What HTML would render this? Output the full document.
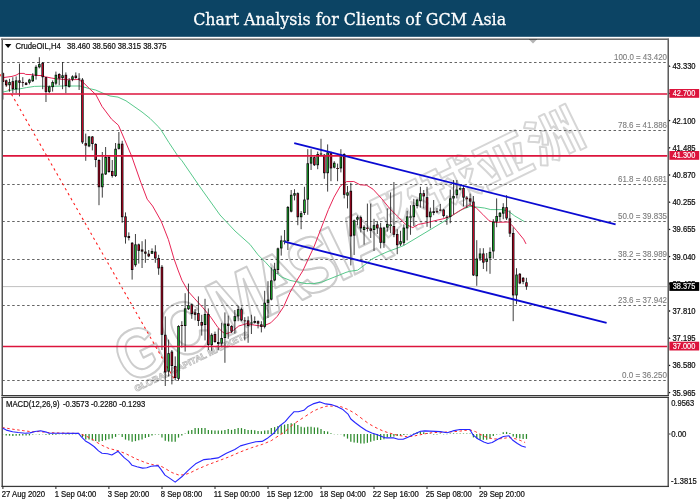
<!DOCTYPE html>
<html lang="en"><head><meta charset="utf-8"><title>Chart Analysis for Clients of GCM Asia</title>
<style>html,body{margin:0;padding:0;background:#fff;}body{width:700px;height:500px;overflow:hidden;position:relative;}svg{position:absolute;left:0;top:0;display:block;}text{white-space:pre;}</style>
</head><body>
<svg width="700" height="500" viewBox="0 0 700 500">
<rect x="0" y="0" width="700" height="500" fill="#fff"/>
<rect x="0" y="0" width="700" height="36.8" fill="#0c4464"/>
<text x="349.7" y="24.5" font-family="'DejaVu Serif', 'Liberation Serif', serif" font-size="16.9" fill="#fff" text-anchor="middle" textLength="313" lengthAdjust="spacingAndGlyphs" stroke="#fff" stroke-width="0.3">Chart Analysis for Clients of GCM Asia</text>
<g transform="translate(130.2,384.0) rotate(-26.0)">
<text transform="scale(0.84,1)" y="0" font-family="'Liberation Sans', sans-serif" font-weight="bold" stroke="#cdcdcd" stroke-width="2.2" stroke-linejoin="round" fill="#ffffff"><tspan x="-1.2" font-size="70">G</tspan><tspan x="59.8" font-size="75">C</tspan><tspan x="125.4 184.6 230.8 277.1 295.3" font-size="79">MASIA</tspan></text>
<text transform="translate(0,-17.5) scale(1.04,1)" x="282.2 336.0 389.8 444.7" y="0" font-family="'Noto Sans CJK SC', 'WenQuanYi Zen Hei', sans-serif" font-weight="bold" font-size="53" stroke="#d6d6d6" stroke-width="1.9" stroke-linejoin="round" fill="#ffffff">环球亚洲</text>
<text x="2" y="9.8" font-family="'Liberation Sans', sans-serif" font-weight="bold" font-size="8.8" stroke="#bdbdbd" stroke-width="0.8" fill="#fff" fill-opacity="0.6" textLength="126" lengthAdjust="spacingAndGlyphs">GLOBAL CAPITAL MARKETS</text>
</g>
<line x1="2.25" y1="62.5" x2="667" y2="62.5" stroke="#484848" stroke-width="0.85" stroke-dasharray="2.5 2.47"/>
<line x1="2.25" y1="130.5" x2="667" y2="130.5" stroke="#484848" stroke-width="0.85" stroke-dasharray="2.5 2.47"/>
<line x1="2.25" y1="184.5" x2="667" y2="184.5" stroke="#484848" stroke-width="0.85" stroke-dasharray="2.5 2.47"/>
<line x1="2.25" y1="221.5" x2="667" y2="221.5" stroke="#484848" stroke-width="0.85" stroke-dasharray="2.5 2.47"/>
<line x1="2.25" y1="259.5" x2="667" y2="259.5" stroke="#484848" stroke-width="0.85" stroke-dasharray="2.5 2.47"/>
<line x1="2.25" y1="305.5" x2="667" y2="305.5" stroke="#484848" stroke-width="0.85" stroke-dasharray="2.5 2.47"/>
<line x1="2.25" y1="380.5" x2="667" y2="380.5" stroke="#484848" stroke-width="0.85" stroke-dasharray="2.5 2.47"/>
<line x1="3" y1="286.6" x2="668" y2="286.6" stroke="#c0c0c0" stroke-width="1"/>
<line x1="-6.9" y1="62" x2="175" y2="380.5" stroke="#ff1a1a" stroke-width="1.05" stroke-dasharray="2.4 3.3" stroke-dashoffset="-2.8"/>
<polyline points="3.2,92.0 13.6,89.6 20.0,88.8 26.4,87.6 34.4,86.4 41.6,86.2 48.0,86.4 64.0,86.0 80.0,86.0 89.4,88.6 95.6,90.0 102.0,92.8 110.0,96.0 118.0,97.1 126.0,100.8 134.0,106.4 142.0,112.0 150.0,118.4 158.0,126.4 160.8,129.6 168.8,142.4 178.4,156.8 182.0,160.8 200.0,187.0 220.0,215.0 235.0,231.0 250.0,244.4 258.0,254.8 266.0,262.8 274.0,271.6 282.0,277.2 290.0,280.4 298.0,282.0 306.0,283.6 314.0,283.6 322.0,282.0 330.0,278.8 338.0,275.6 346.0,272.4 349.6,271.3 357.6,270.2 364.0,265.4 372.0,259.0 380.0,255.0 388.0,251.5 396.0,248.6 404.0,245.4 412.0,240.6 420.0,235.8 428.0,231.0 436.0,226.2 444.0,221.4 454.0,214.4 462.0,209.6 470.0,206.4 478.0,207.2 484.4,208.0 490.8,209.6 502.0,209.6 508.4,211.2 514.8,216.0 524.4,221.6" fill="none" stroke="#4fc585" stroke-width="0.95" stroke-linejoin="round"/>
<polyline points="3.2,77.6 12.0,76.4 16.0,75.2 19.2,73.4 24.0,73.4 25.6,74.4 31.2,74.6 36.0,75.4 42.4,75.6 45.6,76.8 51.2,78.0 56.0,78.8 68.8,79.8 78.4,79.5 83.2,82.4 89.4,88.6 95.8,94.6 102.0,106.4 111.6,119.2 118.4,125.2 124.4,139.2 131.6,156.0 140.8,182.4 147.2,199.2 152.6,206.0 161.2,221.2 168.4,239.6 174.0,258.8 178.0,270.0 182.0,280.4 188.4,291.6 194.8,298.8 202.8,307.6 210.8,317.2 218.0,327.6 222.0,331.5 225.2,334.0 230.8,332.4 238.8,326.0 246.8,323.6 254.8,325.2 262.8,326.3 270.8,322.8 277.2,316.4 283.6,306.8 290.0,292.4 296.4,281.2 302.8,270.8 314.0,246.8 322.0,226.0 328.4,209.6 334.0,197.2 340.4,186.0 346.6,181.6 353.8,181.5 360.2,184.8 366.6,185.2 373.0,189.2 381.8,198.8 389.6,208.4 397.6,216.4 405.6,224.4 412.8,227.6 418.4,224.4 426.4,222.8 436.0,220.4 444.0,218.6 452.0,215.6 458.8,211.2 470.0,204.8 476.4,208.0 482.8,214.4 489.2,220.8 494.0,222.4 508.4,222.0 511.6,224.8 516.4,230.4 523.6,239.2 526.0,243.9" fill="none" stroke="#e82455" stroke-width="1.0" stroke-linejoin="round"/>
<line x1="2.90" y1="72.4" x2="2.90" y2="99.6" stroke="#161616" stroke-width="0.828"/>
<rect x="1.66" y="73.2" width="2.49" height="8.8" fill="#080808"/>
<rect x="2.49" y="74.0" width="0.83" height="7.1" fill="#e6042c"/>
<line x1="6.21" y1="79.6" x2="6.21" y2="86.8" stroke="#161616" stroke-width="0.828"/>
<rect x="4.97" y="80.4" width="2.49" height="4.8" fill="#080808"/>
<rect x="5.80" y="81.2" width="0.83" height="3.1" fill="#e6042c"/>
<line x1="9.53" y1="78.8" x2="9.53" y2="91.6" stroke="#161616" stroke-width="0.828"/>
<rect x="8.28" y="82.0" width="2.49" height="3.2" fill="#080808"/>
<rect x="9.11" y="82.8" width="0.83" height="1.5" fill="#1cc630"/>
<line x1="12.84" y1="77.2" x2="12.84" y2="93.2" stroke="#161616" stroke-width="0.828"/>
<rect x="11.60" y="81.2" width="2.49" height="8.0" fill="#080808"/>
<rect x="12.43" y="82.0" width="0.83" height="6.3" fill="#e6042c"/>
<line x1="16.15" y1="76.4" x2="16.15" y2="93.2" stroke="#161616" stroke-width="0.828"/>
<rect x="14.91" y="80.4" width="2.49" height="8.8" fill="#080808"/>
<rect x="15.74" y="81.2" width="0.83" height="7.1" fill="#1cc630"/>
<line x1="19.47" y1="63.6" x2="19.47" y2="96.4" stroke="#161616" stroke-width="0.828"/>
<rect x="18.22" y="80.4" width="2.49" height="2.4" fill="#080808"/>
<rect x="19.05" y="81.2" width="0.83" height="0.7" fill="#e6042c"/>
<line x1="22.78" y1="77.2" x2="22.78" y2="86.8" stroke="#161616" stroke-width="0.828"/>
<rect x="21.54" y="82.0" width="2.49" height="0.9" fill="#080808"/>
<rect x="22.37" y="82.2" width="0.83" height="0.4" fill="#e6042c"/>
<line x1="26.09" y1="82.0" x2="26.09" y2="85.2" stroke="#161616" stroke-width="0.828"/>
<rect x="24.85" y="82.8" width="2.49" height="2.1" fill="#080808"/>
<rect x="25.68" y="83.6" width="0.83" height="0.4" fill="#e6042c"/>
<line x1="29.41" y1="78.8" x2="29.41" y2="84.4" stroke="#161616" stroke-width="0.828"/>
<rect x="28.17" y="79.6" width="2.49" height="3.2" fill="#080808"/>
<rect x="28.99" y="80.4" width="0.83" height="1.5" fill="#1cc630"/>
<line x1="32.72" y1="73.2" x2="32.72" y2="82.0" stroke="#161616" stroke-width="0.828"/>
<rect x="31.48" y="75.6" width="2.49" height="5.6" fill="#080808"/>
<rect x="32.31" y="76.4" width="0.83" height="3.9" fill="#1cc630"/>
<line x1="36.04" y1="65.2" x2="36.04" y2="79.6" stroke="#161616" stroke-width="0.828"/>
<rect x="34.79" y="66.8" width="2.49" height="8.8" fill="#080808"/>
<rect x="35.62" y="67.6" width="0.83" height="7.1" fill="#1cc630"/>
<line x1="39.35" y1="57.2" x2="39.35" y2="68.4" stroke="#161616" stroke-width="0.828"/>
<rect x="38.11" y="64.1" width="2.49" height="3.2" fill="#080808"/>
<rect x="38.93" y="64.9" width="0.83" height="1.5" fill="#1cc630"/>
<line x1="42.66" y1="62.0" x2="42.66" y2="89.2" stroke="#161616" stroke-width="0.828"/>
<rect x="41.42" y="62.8" width="2.49" height="14.4" fill="#080808"/>
<rect x="42.25" y="63.6" width="0.83" height="12.7" fill="#e6042c"/>
<line x1="45.98" y1="77.2" x2="45.98" y2="102.0" stroke="#161616" stroke-width="0.828"/>
<rect x="44.73" y="77.2" width="2.49" height="14.7" fill="#080808"/>
<rect x="45.56" y="78.0" width="0.83" height="13.0" fill="#e6042c"/>
<line x1="49.29" y1="85.5" x2="49.29" y2="93.2" stroke="#161616" stroke-width="0.828"/>
<rect x="48.05" y="86.5" width="2.49" height="5.4" fill="#080808"/>
<rect x="48.88" y="87.3" width="0.83" height="3.7" fill="#1cc630"/>
<line x1="52.60" y1="80.4" x2="52.60" y2="91.6" stroke="#161616" stroke-width="0.828"/>
<rect x="51.36" y="82.0" width="2.49" height="5.1" fill="#080808"/>
<rect x="52.19" y="82.8" width="0.83" height="3.4" fill="#1cc630"/>
<line x1="55.92" y1="71.6" x2="55.92" y2="85.2" stroke="#161616" stroke-width="0.828"/>
<rect x="54.67" y="74.8" width="2.49" height="8.8" fill="#080808"/>
<rect x="55.50" y="75.6" width="0.83" height="7.1" fill="#1cc630"/>
<line x1="59.23" y1="73.2" x2="59.23" y2="85.2" stroke="#161616" stroke-width="0.828"/>
<rect x="57.99" y="74.0" width="2.49" height="4.5" fill="#080808"/>
<rect x="58.82" y="74.8" width="0.83" height="2.8" fill="#e6042c"/>
<line x1="62.54" y1="62.0" x2="62.54" y2="89.2" stroke="#161616" stroke-width="0.828"/>
<rect x="61.30" y="75.3" width="2.49" height="2.7" fill="#080808"/>
<rect x="62.13" y="76.1" width="0.83" height="1.0" fill="#1cc630"/>
<line x1="65.86" y1="72.4" x2="65.86" y2="93.2" stroke="#161616" stroke-width="0.828"/>
<rect x="64.62" y="74.8" width="2.49" height="11.2" fill="#080808"/>
<rect x="65.44" y="75.6" width="0.83" height="9.5" fill="#e6042c"/>
<line x1="69.17" y1="78.0" x2="69.17" y2="87.6" stroke="#161616" stroke-width="0.828"/>
<rect x="67.93" y="80.4" width="2.49" height="6.4" fill="#080808"/>
<rect x="68.76" y="81.2" width="0.83" height="4.7" fill="#1cc630"/>
<line x1="72.49" y1="75.3" x2="72.49" y2="81.2" stroke="#161616" stroke-width="0.828"/>
<rect x="71.24" y="76.4" width="2.49" height="3.2" fill="#080808"/>
<rect x="72.07" y="77.2" width="0.83" height="1.5" fill="#1cc630"/>
<line x1="75.80" y1="72.4" x2="75.80" y2="78.8" stroke="#161616" stroke-width="0.828"/>
<rect x="74.56" y="75.6" width="2.49" height="2.4" fill="#080808"/>
<rect x="75.38" y="76.4" width="0.83" height="0.7" fill="#e6042c"/>
<line x1="79.11" y1="73.2" x2="79.11" y2="90.0" stroke="#161616" stroke-width="0.828"/>
<rect x="77.87" y="78.5" width="2.49" height="1.1" fill="#080808"/>
<rect x="78.70" y="78.8" width="0.83" height="0.6" fill="#e6042c"/>
<line x1="82.43" y1="78.0" x2="82.43" y2="144.0" stroke="#161616" stroke-width="0.828"/>
<rect x="81.18" y="79.6" width="2.49" height="62.8" fill="#080808"/>
<rect x="82.01" y="80.4" width="0.83" height="61.1" fill="#e6042c"/>
<line x1="85.74" y1="133.6" x2="85.74" y2="160.8" stroke="#161616" stroke-width="0.828"/>
<rect x="84.50" y="143.2" width="2.49" height="2.4" fill="#080808"/>
<rect x="85.33" y="144.0" width="0.83" height="0.7" fill="#e6042c"/>
<line x1="89.05" y1="136.0" x2="89.05" y2="147.2" stroke="#161616" stroke-width="0.828"/>
<rect x="87.81" y="136.5" width="2.49" height="9.9" fill="#080808"/>
<rect x="88.64" y="137.3" width="0.83" height="8.2" fill="#1cc630"/>
<line x1="92.37" y1="136.0" x2="92.37" y2="150.4" stroke="#161616" stroke-width="0.828"/>
<rect x="91.12" y="136.5" width="2.49" height="7.5" fill="#080808"/>
<rect x="91.95" y="137.3" width="0.83" height="5.8" fill="#e6042c"/>
<line x1="95.68" y1="143.2" x2="95.68" y2="167.2" stroke="#161616" stroke-width="0.828"/>
<rect x="94.44" y="144.0" width="2.49" height="16.0" fill="#080808"/>
<rect x="95.27" y="144.8" width="0.83" height="14.3" fill="#e6042c"/>
<line x1="98.99" y1="159.2" x2="98.99" y2="205.2" stroke="#161616" stroke-width="0.828"/>
<rect x="97.75" y="160.0" width="2.49" height="27.2" fill="#080808"/>
<rect x="98.58" y="160.8" width="0.83" height="25.5" fill="#e6042c"/>
<line x1="102.31" y1="152.0" x2="102.31" y2="197.6" stroke="#161616" stroke-width="0.828"/>
<rect x="101.07" y="173.6" width="2.49" height="13.6" fill="#080808"/>
<rect x="101.89" y="174.4" width="0.83" height="11.9" fill="#1cc630"/>
<line x1="105.62" y1="147.0" x2="105.62" y2="175.0" stroke="#161616" stroke-width="0.828"/>
<rect x="104.38" y="157.0" width="2.49" height="17.4" fill="#080808"/>
<rect x="105.21" y="157.8" width="0.83" height="15.7" fill="#1cc630"/>
<line x1="108.93" y1="156.0" x2="108.93" y2="172.8" stroke="#161616" stroke-width="0.828"/>
<rect x="107.69" y="157.0" width="2.49" height="15.0" fill="#080808"/>
<rect x="108.52" y="157.8" width="0.83" height="13.3" fill="#e6042c"/>
<line x1="112.25" y1="160.0" x2="112.25" y2="177.6" stroke="#161616" stroke-width="0.828"/>
<rect x="111.01" y="171.0" width="2.49" height="5.0" fill="#080808"/>
<rect x="111.83" y="171.8" width="0.83" height="3.3" fill="#e6042c"/>
<line x1="115.56" y1="143.0" x2="115.56" y2="177.0" stroke="#161616" stroke-width="0.828"/>
<rect x="114.32" y="148.8" width="2.49" height="27.2" fill="#080808"/>
<rect x="115.15" y="149.6" width="0.83" height="25.5" fill="#1cc630"/>
<line x1="118.88" y1="132.0" x2="118.88" y2="149.6" stroke="#161616" stroke-width="0.828"/>
<rect x="117.63" y="143.7" width="2.49" height="5.1" fill="#080808"/>
<rect x="118.46" y="144.5" width="0.83" height="3.4" fill="#1cc630"/>
<line x1="122.19" y1="140.8" x2="122.19" y2="222.8" stroke="#161616" stroke-width="0.828"/>
<rect x="120.95" y="143.7" width="2.49" height="73.5" fill="#080808"/>
<rect x="121.78" y="144.5" width="0.83" height="71.8" fill="#e6042c"/>
<line x1="125.50" y1="212.4" x2="125.50" y2="243.6" stroke="#161616" stroke-width="0.828"/>
<rect x="124.26" y="216.4" width="2.49" height="20.8" fill="#080808"/>
<rect x="125.09" y="217.2" width="0.83" height="19.1" fill="#e6042c"/>
<line x1="128.82" y1="232.4" x2="128.82" y2="240.4" stroke="#161616" stroke-width="0.828"/>
<rect x="127.57" y="236.0" width="2.49" height="2.0" fill="#080808"/>
<rect x="128.40" y="236.8" width="0.83" height="0.3" fill="#e6042c"/>
<line x1="132.13" y1="242.0" x2="132.13" y2="279.6" stroke="#161616" stroke-width="0.828"/>
<rect x="130.89" y="242.8" width="2.49" height="27.2" fill="#080808"/>
<rect x="131.72" y="243.6" width="0.83" height="25.5" fill="#e6042c"/>
<line x1="135.44" y1="234.0" x2="135.44" y2="266.8" stroke="#161616" stroke-width="0.828"/>
<rect x="134.20" y="244.4" width="2.49" height="20.8" fill="#080808"/>
<rect x="135.03" y="245.2" width="0.83" height="19.1" fill="#1cc630"/>
<line x1="138.76" y1="243.6" x2="138.76" y2="263.6" stroke="#161616" stroke-width="0.828"/>
<rect x="137.51" y="244.4" width="2.49" height="6.4" fill="#080808"/>
<rect x="138.34" y="245.2" width="0.83" height="4.7" fill="#e6042c"/>
<line x1="142.07" y1="241.2" x2="142.07" y2="268.0" stroke="#161616" stroke-width="0.828"/>
<rect x="140.83" y="249.5" width="2.49" height="2.1" fill="#080808"/>
<rect x="141.66" y="250.3" width="0.83" height="0.4" fill="#e6042c"/>
<line x1="145.38" y1="239.3" x2="145.38" y2="262.8" stroke="#161616" stroke-width="0.828"/>
<rect x="144.14" y="251.6" width="2.49" height="2.1" fill="#080808"/>
<rect x="144.97" y="252.4" width="0.83" height="0.4" fill="#e6042c"/>
<line x1="148.70" y1="250.0" x2="148.70" y2="257.2" stroke="#161616" stroke-width="0.828"/>
<rect x="147.46" y="253.7" width="2.49" height="2.7" fill="#080808"/>
<rect x="148.28" y="254.5" width="0.83" height="1.0" fill="#e6042c"/>
<line x1="152.01" y1="248.4" x2="152.01" y2="254.0" stroke="#161616" stroke-width="0.828"/>
<rect x="150.77" y="251.0" width="2.49" height="2.7" fill="#080808"/>
<rect x="151.60" y="251.8" width="0.83" height="1.0" fill="#1cc630"/>
<line x1="155.33" y1="245.2" x2="155.33" y2="262.8" stroke="#161616" stroke-width="0.828"/>
<rect x="154.08" y="251.6" width="2.49" height="6.8" fill="#080808"/>
<rect x="154.91" y="252.4" width="0.83" height="5.1" fill="#e6042c"/>
<line x1="158.64" y1="254.8" x2="158.64" y2="274.8" stroke="#161616" stroke-width="0.828"/>
<rect x="157.40" y="258.0" width="2.49" height="10.4" fill="#080808"/>
<rect x="158.22" y="258.8" width="0.83" height="8.7" fill="#e6042c"/>
<line x1="161.95" y1="265.0" x2="161.95" y2="350.0" stroke="#161616" stroke-width="0.828"/>
<rect x="160.71" y="266.8" width="2.49" height="68.0" fill="#080808"/>
<rect x="161.54" y="267.6" width="0.83" height="66.3" fill="#e6042c"/>
<line x1="165.27" y1="316.4" x2="165.27" y2="386.0" stroke="#161616" stroke-width="0.828"/>
<rect x="164.02" y="334.8" width="2.49" height="37.6" fill="#080808"/>
<rect x="164.85" y="335.6" width="0.83" height="35.9" fill="#e6042c"/>
<line x1="168.58" y1="339.6" x2="168.58" y2="376.4" stroke="#161616" stroke-width="0.828"/>
<rect x="167.34" y="353.2" width="2.49" height="18.4" fill="#080808"/>
<rect x="168.17" y="354.0" width="0.83" height="16.7" fill="#1cc630"/>
<line x1="171.89" y1="350.0" x2="171.89" y2="384.4" stroke="#161616" stroke-width="0.828"/>
<rect x="170.65" y="351.6" width="2.49" height="14.4" fill="#080808"/>
<rect x="171.48" y="352.4" width="0.83" height="12.7" fill="#e6042c"/>
<line x1="175.21" y1="356.4" x2="175.21" y2="380.4" stroke="#161616" stroke-width="0.828"/>
<rect x="173.96" y="366.0" width="2.49" height="12.0" fill="#080808"/>
<rect x="174.79" y="366.8" width="0.83" height="10.3" fill="#e6042c"/>
<line x1="178.52" y1="325.2" x2="178.52" y2="380.4" stroke="#161616" stroke-width="0.828"/>
<rect x="177.28" y="326.0" width="2.49" height="52.8" fill="#080808"/>
<rect x="178.11" y="326.8" width="0.83" height="51.1" fill="#1cc630"/>
<line x1="181.83" y1="321.2" x2="181.83" y2="347.6" stroke="#161616" stroke-width="0.828"/>
<rect x="180.59" y="325.0" width="2.49" height="1.0" fill="#080808"/>
<rect x="181.42" y="325.2" width="0.83" height="0.5" fill="#e6042c"/>
<line x1="185.15" y1="293.2" x2="185.15" y2="351.6" stroke="#161616" stroke-width="0.828"/>
<rect x="183.91" y="308.4" width="2.49" height="17.6" fill="#080808"/>
<rect x="184.73" y="309.2" width="0.83" height="15.9" fill="#1cc630"/>
<line x1="188.46" y1="283.6" x2="188.46" y2="310.0" stroke="#161616" stroke-width="0.828"/>
<rect x="187.22" y="305.2" width="2.49" height="4.0" fill="#080808"/>
<rect x="188.05" y="306.0" width="0.83" height="2.3" fill="#1cc630"/>
<line x1="191.78" y1="303.6" x2="191.78" y2="318.8" stroke="#161616" stroke-width="0.828"/>
<rect x="190.53" y="304.4" width="2.49" height="9.6" fill="#080808"/>
<rect x="191.36" y="305.2" width="0.83" height="7.9" fill="#e6042c"/>
<line x1="195.09" y1="309.0" x2="195.09" y2="320.4" stroke="#161616" stroke-width="0.828"/>
<rect x="193.85" y="312.4" width="2.49" height="2.4" fill="#080808"/>
<rect x="194.67" y="313.2" width="0.83" height="0.7" fill="#e6042c"/>
<line x1="198.40" y1="296.4" x2="198.40" y2="326.0" stroke="#161616" stroke-width="0.828"/>
<rect x="197.16" y="313.0" width="2.49" height="8.0" fill="#080808"/>
<rect x="197.99" y="313.8" width="0.83" height="6.3" fill="#e6042c"/>
<line x1="201.72" y1="314.8" x2="201.72" y2="335.6" stroke="#161616" stroke-width="0.828"/>
<rect x="200.47" y="322.0" width="2.49" height="3.6" fill="#080808"/>
<rect x="201.30" y="322.8" width="0.83" height="1.9" fill="#e6042c"/>
<line x1="205.03" y1="298.8" x2="205.03" y2="340.4" stroke="#161616" stroke-width="0.828"/>
<rect x="203.79" y="314.0" width="2.49" height="11.0" fill="#080808"/>
<rect x="204.62" y="314.8" width="0.83" height="9.3" fill="#1cc630"/>
<line x1="208.34" y1="308.4" x2="208.34" y2="350.0" stroke="#161616" stroke-width="0.828"/>
<rect x="207.10" y="314.0" width="2.49" height="31.0" fill="#080808"/>
<rect x="207.93" y="314.8" width="0.83" height="29.3" fill="#e6042c"/>
<line x1="211.66" y1="333.2" x2="211.66" y2="350.8" stroke="#161616" stroke-width="0.828"/>
<rect x="210.41" y="334.8" width="2.49" height="10.4" fill="#080808"/>
<rect x="211.24" y="335.6" width="0.83" height="8.7" fill="#1cc630"/>
<line x1="214.97" y1="331.6" x2="214.97" y2="342.8" stroke="#161616" stroke-width="0.828"/>
<rect x="213.73" y="334.0" width="2.49" height="8.0" fill="#080808"/>
<rect x="214.56" y="334.8" width="0.83" height="6.3" fill="#e6042c"/>
<line x1="218.28" y1="328.4" x2="218.28" y2="350.0" stroke="#161616" stroke-width="0.828"/>
<rect x="217.04" y="342.0" width="2.49" height="2.0" fill="#080808"/>
<rect x="217.87" y="342.8" width="0.83" height="0.3" fill="#e6042c"/>
<line x1="221.60" y1="322.8" x2="221.60" y2="346.0" stroke="#161616" stroke-width="0.828"/>
<rect x="220.36" y="338.0" width="2.49" height="5.6" fill="#080808"/>
<rect x="221.18" y="338.8" width="0.83" height="3.9" fill="#1cc630"/>
<line x1="224.91" y1="312.4" x2="224.91" y2="362.8" stroke="#161616" stroke-width="0.828"/>
<rect x="223.67" y="323.6" width="2.49" height="14.4" fill="#080808"/>
<rect x="224.50" y="324.4" width="0.83" height="12.7" fill="#1cc630"/>
<line x1="228.22" y1="315.6" x2="228.22" y2="338.8" stroke="#161616" stroke-width="0.828"/>
<rect x="226.98" y="323.6" width="2.49" height="2.4" fill="#080808"/>
<rect x="227.81" y="324.4" width="0.83" height="0.7" fill="#e6042c"/>
<line x1="231.54" y1="325.2" x2="231.54" y2="333.0" stroke="#161616" stroke-width="0.828"/>
<rect x="230.30" y="326.0" width="2.49" height="5.6" fill="#080808"/>
<rect x="231.12" y="326.8" width="0.83" height="3.9" fill="#e6042c"/>
<line x1="234.85" y1="310.0" x2="234.85" y2="333.6" stroke="#161616" stroke-width="0.828"/>
<rect x="233.61" y="316.2" width="2.49" height="5.0" fill="#080808"/>
<rect x="234.44" y="317.0" width="0.83" height="3.3" fill="#1cc630"/>
<line x1="238.17" y1="306.0" x2="238.17" y2="321.2" stroke="#161616" stroke-width="0.828"/>
<rect x="236.92" y="309.2" width="2.49" height="7.2" fill="#080808"/>
<rect x="237.75" y="310.0" width="0.83" height="5.5" fill="#1cc630"/>
<line x1="241.48" y1="307.6" x2="241.48" y2="321.2" stroke="#161616" stroke-width="0.828"/>
<rect x="240.24" y="309.2" width="2.49" height="11.2" fill="#080808"/>
<rect x="241.07" y="310.0" width="0.83" height="9.5" fill="#e6042c"/>
<line x1="244.79" y1="317.2" x2="244.79" y2="340.4" stroke="#161616" stroke-width="0.828"/>
<rect x="243.55" y="320.4" width="2.49" height="0.9" fill="#080808"/>
<rect x="244.38" y="320.6" width="0.83" height="0.4" fill="#e6042c"/>
<line x1="248.11" y1="316.4" x2="248.11" y2="342.8" stroke="#161616" stroke-width="0.828"/>
<rect x="246.86" y="320.4" width="2.49" height="5.6" fill="#080808"/>
<rect x="247.69" y="321.2" width="0.83" height="3.9" fill="#e6042c"/>
<line x1="251.42" y1="314.8" x2="251.42" y2="334.0" stroke="#161616" stroke-width="0.828"/>
<rect x="250.18" y="322.5" width="2.49" height="1.0" fill="#080808"/>
<rect x="251.01" y="322.8" width="0.83" height="0.5" fill="#1cc630"/>
<line x1="254.73" y1="316.4" x2="254.73" y2="323.6" stroke="#161616" stroke-width="0.828"/>
<rect x="253.49" y="321.0" width="2.49" height="1.8" fill="#080808"/>
<rect x="254.32" y="321.8" width="0.83" height="0.1" fill="#1cc630"/>
<line x1="258.05" y1="320.4" x2="258.05" y2="328.4" stroke="#161616" stroke-width="0.828"/>
<rect x="256.80" y="321.2" width="2.49" height="2.4" fill="#080808"/>
<rect x="257.63" y="322.0" width="0.83" height="0.7" fill="#e6042c"/>
<line x1="261.36" y1="321.2" x2="261.36" y2="332.4" stroke="#161616" stroke-width="0.828"/>
<rect x="260.12" y="324.4" width="2.49" height="2.4" fill="#080808"/>
<rect x="260.95" y="325.2" width="0.83" height="0.7" fill="#e6042c"/>
<line x1="264.67" y1="290.8" x2="264.67" y2="328.4" stroke="#161616" stroke-width="0.828"/>
<rect x="263.43" y="302.8" width="2.49" height="24.0" fill="#080808"/>
<rect x="264.26" y="303.6" width="0.83" height="22.3" fill="#1cc630"/>
<line x1="267.99" y1="281.2" x2="267.99" y2="318.0" stroke="#161616" stroke-width="0.828"/>
<rect x="266.75" y="299.6" width="2.49" height="3.2" fill="#080808"/>
<rect x="267.57" y="300.4" width="0.83" height="1.5" fill="#1cc630"/>
<line x1="271.30" y1="267.6" x2="271.30" y2="300.4" stroke="#161616" stroke-width="0.828"/>
<rect x="270.06" y="280.4" width="2.49" height="19.2" fill="#080808"/>
<rect x="270.89" y="281.2" width="0.83" height="17.5" fill="#1cc630"/>
<line x1="274.62" y1="262.8" x2="274.62" y2="281.2" stroke="#161616" stroke-width="0.828"/>
<rect x="273.37" y="269.2" width="2.49" height="11.2" fill="#080808"/>
<rect x="274.20" y="270.0" width="0.83" height="9.5" fill="#1cc630"/>
<line x1="277.93" y1="247.6" x2="277.93" y2="274.0" stroke="#161616" stroke-width="0.828"/>
<rect x="276.69" y="248.4" width="2.49" height="21.6" fill="#080808"/>
<rect x="277.51" y="249.2" width="0.83" height="19.9" fill="#1cc630"/>
<line x1="281.24" y1="235.6" x2="281.24" y2="255.6" stroke="#161616" stroke-width="0.828"/>
<rect x="280.00" y="240.4" width="2.49" height="8.0" fill="#080808"/>
<rect x="280.83" y="241.2" width="0.83" height="6.3" fill="#1cc630"/>
<line x1="284.56" y1="230.0" x2="284.56" y2="244.4" stroke="#161616" stroke-width="0.828"/>
<rect x="283.31" y="240.4" width="2.49" height="1.6" fill="#080808"/>
<rect x="284.14" y="240.7" width="0.83" height="1.1" fill="#1cc630"/>
<line x1="287.87" y1="206.0" x2="287.87" y2="250.0" stroke="#161616" stroke-width="0.828"/>
<rect x="286.63" y="207.0" width="2.49" height="34.2" fill="#080808"/>
<rect x="287.46" y="207.8" width="0.83" height="32.5" fill="#1cc630"/>
<line x1="291.18" y1="190.0" x2="291.18" y2="212.4" stroke="#161616" stroke-width="0.828"/>
<rect x="289.94" y="194.8" width="2.49" height="16.8" fill="#080808"/>
<rect x="290.77" y="195.6" width="0.83" height="15.1" fill="#1cc630"/>
<line x1="294.50" y1="189.2" x2="294.50" y2="200.4" stroke="#161616" stroke-width="0.828"/>
<rect x="293.25" y="193.2" width="2.49" height="2.4" fill="#080808"/>
<rect x="294.08" y="194.0" width="0.83" height="0.7" fill="#1cc630"/>
<line x1="297.81" y1="192.4" x2="297.81" y2="225.2" stroke="#161616" stroke-width="0.828"/>
<rect x="296.57" y="193.2" width="2.49" height="24.0" fill="#080808"/>
<rect x="297.40" y="194.0" width="0.83" height="22.3" fill="#e6042c"/>
<line x1="301.12" y1="211.0" x2="301.12" y2="229.2" stroke="#161616" stroke-width="0.828"/>
<rect x="299.88" y="213.2" width="2.49" height="4.0" fill="#080808"/>
<rect x="300.71" y="214.0" width="0.83" height="2.3" fill="#1cc630"/>
<line x1="304.44" y1="186.8" x2="304.44" y2="215.0" stroke="#161616" stroke-width="0.828"/>
<rect x="303.20" y="199.6" width="2.49" height="13.4" fill="#080808"/>
<rect x="304.02" y="200.4" width="0.83" height="11.7" fill="#1cc630"/>
<line x1="307.75" y1="149.2" x2="307.75" y2="214.8" stroke="#161616" stroke-width="0.828"/>
<rect x="306.51" y="163.3" width="2.49" height="36.3" fill="#080808"/>
<rect x="307.34" y="164.1" width="0.83" height="34.6" fill="#1cc630"/>
<line x1="311.07" y1="149.2" x2="311.07" y2="170.0" stroke="#161616" stroke-width="0.828"/>
<rect x="309.82" y="157.2" width="2.49" height="6.4" fill="#080808"/>
<rect x="310.65" y="158.0" width="0.83" height="4.7" fill="#1cc630"/>
<line x1="314.38" y1="156.4" x2="314.38" y2="166.0" stroke="#161616" stroke-width="0.828"/>
<rect x="313.14" y="157.2" width="2.49" height="8.0" fill="#080808"/>
<rect x="313.96" y="158.0" width="0.83" height="6.3" fill="#e6042c"/>
<line x1="317.69" y1="151.6" x2="317.69" y2="169.2" stroke="#161616" stroke-width="0.828"/>
<rect x="316.45" y="154.0" width="2.49" height="11.2" fill="#080808"/>
<rect x="317.28" y="154.8" width="0.83" height="9.5" fill="#1cc630"/>
<line x1="321.01" y1="138.8" x2="321.01" y2="155.6" stroke="#161616" stroke-width="0.828"/>
<rect x="319.76" y="153.5" width="2.49" height="1.0" fill="#080808"/>
<rect x="320.59" y="153.8" width="0.83" height="0.5" fill="#1cc630"/>
<line x1="324.32" y1="154.0" x2="324.32" y2="178.8" stroke="#161616" stroke-width="0.828"/>
<rect x="323.08" y="154.8" width="2.49" height="18.4" fill="#080808"/>
<rect x="323.91" y="155.6" width="0.83" height="16.7" fill="#e6042c"/>
<line x1="327.63" y1="144.4" x2="327.63" y2="191.6" stroke="#161616" stroke-width="0.828"/>
<rect x="326.39" y="152.4" width="2.49" height="20.8" fill="#080808"/>
<rect x="327.22" y="153.2" width="0.83" height="19.1" fill="#1cc630"/>
<line x1="330.95" y1="151.6" x2="330.95" y2="181.2" stroke="#161616" stroke-width="0.828"/>
<rect x="329.70" y="152.4" width="2.49" height="16.0" fill="#080808"/>
<rect x="330.53" y="153.2" width="0.83" height="14.3" fill="#e6042c"/>
<line x1="334.26" y1="161.2" x2="334.26" y2="168.4" stroke="#161616" stroke-width="0.828"/>
<rect x="333.02" y="162.8" width="2.49" height="4.8" fill="#080808"/>
<rect x="333.85" y="163.6" width="0.83" height="3.1" fill="#1cc630"/>
<line x1="337.57" y1="163.6" x2="337.57" y2="181.2" stroke="#161616" stroke-width="0.828"/>
<rect x="336.33" y="168.0" width="2.49" height="1.0" fill="#080808"/>
<rect x="337.16" y="168.2" width="0.83" height="0.5" fill="#e6042c"/>
<line x1="340.89" y1="149.2" x2="340.89" y2="172.4" stroke="#161616" stroke-width="0.828"/>
<rect x="339.64" y="154.8" width="2.49" height="13.6" fill="#080808"/>
<rect x="340.47" y="155.6" width="0.83" height="11.9" fill="#1cc630"/>
<line x1="344.20" y1="153.2" x2="344.20" y2="198.4" stroke="#161616" stroke-width="0.828"/>
<rect x="342.96" y="154.0" width="2.49" height="40.8" fill="#080808"/>
<rect x="343.79" y="154.8" width="0.83" height="39.1" fill="#e6042c"/>
<line x1="347.51" y1="186.0" x2="347.51" y2="208.4" stroke="#161616" stroke-width="0.828"/>
<rect x="346.27" y="192.4" width="2.49" height="3.2" fill="#080808"/>
<rect x="347.10" y="193.2" width="0.83" height="1.5" fill="#1cc630"/>
<line x1="350.83" y1="182.8" x2="350.83" y2="265.4" stroke="#161616" stroke-width="0.828"/>
<rect x="349.59" y="190.8" width="2.49" height="45.6" fill="#080808"/>
<rect x="350.41" y="191.6" width="0.83" height="43.9" fill="#e6042c"/>
<line x1="354.14" y1="219.6" x2="354.14" y2="255.0" stroke="#161616" stroke-width="0.828"/>
<rect x="352.90" y="220.4" width="2.49" height="15.2" fill="#080808"/>
<rect x="353.73" y="221.2" width="0.83" height="13.5" fill="#1cc630"/>
<line x1="357.46" y1="215.6" x2="357.46" y2="225.2" stroke="#161616" stroke-width="0.828"/>
<rect x="356.21" y="217.2" width="2.49" height="2.4" fill="#080808"/>
<rect x="357.04" y="218.0" width="0.83" height="0.7" fill="#1cc630"/>
<line x1="360.77" y1="215.6" x2="360.77" y2="232.4" stroke="#161616" stroke-width="0.828"/>
<rect x="359.53" y="217.2" width="2.49" height="11.2" fill="#080808"/>
<rect x="360.36" y="218.0" width="0.83" height="9.5" fill="#e6042c"/>
<line x1="364.08" y1="225.2" x2="364.08" y2="244.6" stroke="#161616" stroke-width="0.828"/>
<rect x="362.84" y="226.8" width="2.49" height="3.2" fill="#080808"/>
<rect x="363.67" y="227.6" width="0.83" height="1.5" fill="#1cc630"/>
<line x1="367.40" y1="203.6" x2="367.40" y2="231.6" stroke="#161616" stroke-width="0.828"/>
<rect x="366.15" y="227.6" width="2.49" height="1.3" fill="#080808"/>
<rect x="366.98" y="227.8" width="0.83" height="0.8" fill="#e6042c"/>
<line x1="370.71" y1="203.6" x2="370.71" y2="238.0" stroke="#161616" stroke-width="0.828"/>
<rect x="369.47" y="228.4" width="2.49" height="2.4" fill="#080808"/>
<rect x="370.30" y="229.2" width="0.83" height="0.7" fill="#e6042c"/>
<line x1="374.02" y1="218.8" x2="374.02" y2="251.0" stroke="#161616" stroke-width="0.828"/>
<rect x="372.78" y="225.2" width="2.49" height="4.8" fill="#080808"/>
<rect x="373.61" y="226.0" width="0.83" height="3.1" fill="#1cc630"/>
<line x1="377.34" y1="221.2" x2="377.34" y2="234.0" stroke="#161616" stroke-width="0.828"/>
<rect x="376.09" y="224.4" width="2.49" height="4.0" fill="#080808"/>
<rect x="376.92" y="225.2" width="0.83" height="2.3" fill="#e6042c"/>
<line x1="380.65" y1="222.8" x2="380.65" y2="248.4" stroke="#161616" stroke-width="0.828"/>
<rect x="379.41" y="227.6" width="2.49" height="15.2" fill="#080808"/>
<rect x="380.24" y="228.4" width="0.83" height="13.5" fill="#e6042c"/>
<line x1="383.96" y1="226.8" x2="383.96" y2="247.8" stroke="#161616" stroke-width="0.828"/>
<rect x="382.72" y="227.6" width="2.49" height="15.2" fill="#080808"/>
<rect x="383.55" y="228.4" width="0.83" height="13.5" fill="#1cc630"/>
<line x1="387.28" y1="208.4" x2="387.28" y2="231.6" stroke="#161616" stroke-width="0.828"/>
<rect x="386.04" y="224.0" width="2.49" height="3.6" fill="#080808"/>
<rect x="386.86" y="224.8" width="0.83" height="1.9" fill="#1cc630"/>
<line x1="390.59" y1="192.4" x2="390.59" y2="233.2" stroke="#161616" stroke-width="0.828"/>
<rect x="389.35" y="224.4" width="2.49" height="1.6" fill="#080808"/>
<rect x="390.18" y="224.7" width="0.83" height="1.1" fill="#1cc630"/>
<line x1="393.91" y1="182.0" x2="393.91" y2="237.2" stroke="#161616" stroke-width="0.828"/>
<rect x="392.66" y="226.0" width="2.49" height="8.8" fill="#080808"/>
<rect x="393.49" y="226.8" width="0.83" height="7.1" fill="#e6042c"/>
<line x1="397.22" y1="229.2" x2="397.22" y2="254.2" stroke="#161616" stroke-width="0.828"/>
<rect x="395.98" y="234.0" width="2.49" height="11.2" fill="#080808"/>
<rect x="396.80" y="234.8" width="0.83" height="9.5" fill="#e6042c"/>
<line x1="400.53" y1="230.8" x2="400.53" y2="246.0" stroke="#161616" stroke-width="0.828"/>
<rect x="399.29" y="241.2" width="2.49" height="3.2" fill="#080808"/>
<rect x="400.12" y="242.0" width="0.83" height="1.5" fill="#1cc630"/>
<line x1="403.85" y1="224.4" x2="403.85" y2="245.2" stroke="#161616" stroke-width="0.828"/>
<rect x="402.60" y="227.6" width="2.49" height="15.2" fill="#080808"/>
<rect x="403.43" y="228.4" width="0.83" height="13.5" fill="#1cc630"/>
<line x1="407.16" y1="210.8" x2="407.16" y2="240.4" stroke="#161616" stroke-width="0.828"/>
<rect x="405.92" y="216.4" width="2.49" height="12.0" fill="#080808"/>
<rect x="406.75" y="217.2" width="0.83" height="10.3" fill="#1cc630"/>
<line x1="410.47" y1="205.2" x2="410.47" y2="234.8" stroke="#161616" stroke-width="0.828"/>
<rect x="409.23" y="216.4" width="2.49" height="1.3" fill="#080808"/>
<rect x="410.06" y="216.7" width="0.83" height="0.8" fill="#1cc630"/>
<line x1="413.79" y1="198.8" x2="413.79" y2="226.0" stroke="#161616" stroke-width="0.828"/>
<rect x="412.54" y="205.2" width="2.49" height="12.0" fill="#080808"/>
<rect x="413.37" y="206.0" width="0.83" height="10.3" fill="#1cc630"/>
<line x1="417.10" y1="198.8" x2="417.10" y2="208.4" stroke="#161616" stroke-width="0.828"/>
<rect x="415.86" y="199.6" width="2.49" height="6.4" fill="#080808"/>
<rect x="416.69" y="200.4" width="0.83" height="4.7" fill="#1cc630"/>
<line x1="420.41" y1="186.8" x2="420.41" y2="207.6" stroke="#161616" stroke-width="0.828"/>
<rect x="419.17" y="193.2" width="2.49" height="8.0" fill="#080808"/>
<rect x="420.00" y="194.0" width="0.83" height="6.3" fill="#1cc630"/>
<line x1="423.73" y1="190.0" x2="423.73" y2="208.4" stroke="#161616" stroke-width="0.828"/>
<rect x="422.49" y="193.2" width="2.49" height="3.2" fill="#080808"/>
<rect x="423.31" y="194.0" width="0.83" height="1.5" fill="#e6042c"/>
<line x1="427.04" y1="186.8" x2="427.04" y2="226.8" stroke="#161616" stroke-width="0.828"/>
<rect x="425.80" y="197.2" width="2.49" height="20.0" fill="#080808"/>
<rect x="426.63" y="198.0" width="0.83" height="18.3" fill="#e6042c"/>
<line x1="430.36" y1="207.6" x2="430.36" y2="228.4" stroke="#161616" stroke-width="0.828"/>
<rect x="429.11" y="211.6" width="2.49" height="5.6" fill="#080808"/>
<rect x="429.94" y="212.4" width="0.83" height="3.9" fill="#1cc630"/>
<line x1="433.67" y1="200.0" x2="433.67" y2="215.2" stroke="#161616" stroke-width="0.828"/>
<rect x="432.43" y="211.2" width="2.49" height="1.8" fill="#080808"/>
<rect x="433.25" y="212.0" width="0.83" height="0.1" fill="#e6042c"/>
<line x1="436.98" y1="208.0" x2="436.98" y2="213.2" stroke="#161616" stroke-width="0.828"/>
<rect x="435.74" y="211.2" width="2.49" height="1.0" fill="#080808"/>
<rect x="436.57" y="211.4" width="0.83" height="0.5" fill="#e6042c"/>
<line x1="440.30" y1="204.0" x2="440.30" y2="211.2" stroke="#161616" stroke-width="0.828"/>
<rect x="439.05" y="209.6" width="2.49" height="1.0" fill="#080808"/>
<rect x="439.88" y="209.8" width="0.83" height="0.5" fill="#e6042c"/>
<line x1="443.61" y1="208.8" x2="443.61" y2="217.6" stroke="#161616" stroke-width="0.828"/>
<rect x="442.37" y="209.6" width="2.49" height="6.4" fill="#080808"/>
<rect x="443.20" y="210.4" width="0.83" height="4.7" fill="#e6042c"/>
<line x1="446.92" y1="215.2" x2="446.92" y2="224.8" stroke="#161616" stroke-width="0.828"/>
<rect x="445.68" y="216.8" width="2.49" height="1.0" fill="#080808"/>
<rect x="446.51" y="217.1" width="0.83" height="0.5" fill="#e6042c"/>
<line x1="450.24" y1="189.6" x2="450.24" y2="223.2" stroke="#161616" stroke-width="0.828"/>
<rect x="448.99" y="198.4" width="2.49" height="18.4" fill="#080808"/>
<rect x="449.82" y="199.2" width="0.83" height="16.7" fill="#1cc630"/>
<line x1="453.55" y1="180.0" x2="453.55" y2="214.4" stroke="#161616" stroke-width="0.828"/>
<rect x="452.31" y="196.0" width="2.49" height="2.4" fill="#080808"/>
<rect x="453.14" y="196.8" width="0.83" height="0.7" fill="#1cc630"/>
<line x1="456.86" y1="180.0" x2="456.86" y2="198.4" stroke="#161616" stroke-width="0.828"/>
<rect x="455.62" y="189.6" width="2.49" height="5.6" fill="#080808"/>
<rect x="456.45" y="190.4" width="0.83" height="3.9" fill="#1cc630"/>
<line x1="460.18" y1="185.6" x2="460.18" y2="190.4" stroke="#161616" stroke-width="0.828"/>
<rect x="458.93" y="188.0" width="2.49" height="1.6" fill="#080808"/>
<rect x="459.76" y="188.2" width="0.83" height="1.1" fill="#1cc630"/>
<line x1="463.49" y1="184.8" x2="463.49" y2="206.4" stroke="#161616" stroke-width="0.828"/>
<rect x="462.25" y="188.0" width="2.49" height="9.6" fill="#080808"/>
<rect x="463.08" y="188.8" width="0.83" height="7.9" fill="#e6042c"/>
<line x1="466.80" y1="196.0" x2="466.80" y2="208.0" stroke="#161616" stroke-width="0.828"/>
<rect x="465.56" y="197.6" width="2.49" height="1.6" fill="#080808"/>
<rect x="466.39" y="197.8" width="0.83" height="1.1" fill="#e6042c"/>
<line x1="470.12" y1="193.6" x2="470.12" y2="205.6" stroke="#161616" stroke-width="0.828"/>
<rect x="468.88" y="198.4" width="2.49" height="3.2" fill="#080808"/>
<rect x="469.70" y="199.2" width="0.83" height="1.5" fill="#e6042c"/>
<line x1="473.43" y1="196.0" x2="473.43" y2="276.0" stroke="#161616" stroke-width="0.828"/>
<rect x="472.19" y="201.6" width="2.49" height="73.8" fill="#080808"/>
<rect x="473.02" y="202.4" width="0.83" height="72.1" fill="#e6042c"/>
<line x1="476.75" y1="240.2" x2="476.75" y2="285.8" stroke="#161616" stroke-width="0.828"/>
<rect x="475.50" y="258.6" width="2.49" height="17.6" fill="#080808"/>
<rect x="476.33" y="259.4" width="0.83" height="15.9" fill="#1cc630"/>
<line x1="480.06" y1="248.2" x2="480.06" y2="261.0" stroke="#161616" stroke-width="0.828"/>
<rect x="478.82" y="253.5" width="2.49" height="5.1" fill="#080808"/>
<rect x="479.64" y="254.3" width="0.83" height="3.4" fill="#1cc630"/>
<line x1="483.37" y1="248.2" x2="483.37" y2="269.0" stroke="#161616" stroke-width="0.828"/>
<rect x="482.13" y="253.5" width="2.49" height="9.1" fill="#080808"/>
<rect x="482.96" y="254.3" width="0.83" height="7.4" fill="#e6042c"/>
<line x1="486.69" y1="253.0" x2="486.69" y2="271.4" stroke="#161616" stroke-width="0.828"/>
<rect x="485.44" y="258.6" width="2.49" height="3.2" fill="#080808"/>
<rect x="486.27" y="259.4" width="0.83" height="1.5" fill="#1cc630"/>
<line x1="490.00" y1="247.4" x2="490.00" y2="273.8" stroke="#161616" stroke-width="0.828"/>
<rect x="488.76" y="251.9" width="2.49" height="6.4" fill="#080808"/>
<rect x="489.59" y="252.7" width="0.83" height="4.7" fill="#1cc630"/>
<line x1="493.31" y1="219.2" x2="493.31" y2="258.6" stroke="#161616" stroke-width="0.828"/>
<rect x="492.07" y="221.6" width="2.49" height="29.8" fill="#080808"/>
<rect x="492.90" y="222.4" width="0.83" height="28.1" fill="#1cc630"/>
<line x1="496.63" y1="198.4" x2="496.63" y2="227.2" stroke="#161616" stroke-width="0.828"/>
<rect x="495.38" y="216.0" width="2.49" height="5.6" fill="#080808"/>
<rect x="496.21" y="216.8" width="0.83" height="3.9" fill="#1cc630"/>
<line x1="499.94" y1="212.0" x2="499.94" y2="220.8" stroke="#161616" stroke-width="0.828"/>
<rect x="498.70" y="212.8" width="2.49" height="4.0" fill="#080808"/>
<rect x="499.53" y="213.6" width="0.83" height="2.3" fill="#1cc630"/>
<line x1="503.25" y1="203.2" x2="503.25" y2="219.2" stroke="#161616" stroke-width="0.828"/>
<rect x="502.01" y="207.2" width="2.49" height="6.4" fill="#080808"/>
<rect x="502.84" y="208.0" width="0.83" height="4.7" fill="#1cc630"/>
<line x1="506.57" y1="195.2" x2="506.57" y2="220.0" stroke="#161616" stroke-width="0.828"/>
<rect x="505.33" y="207.2" width="2.49" height="11.2" fill="#080808"/>
<rect x="506.15" y="208.0" width="0.83" height="9.5" fill="#e6042c"/>
<line x1="509.88" y1="210.4" x2="509.88" y2="237.0" stroke="#161616" stroke-width="0.828"/>
<rect x="508.64" y="218.4" width="2.49" height="15.2" fill="#080808"/>
<rect x="509.47" y="219.2" width="0.83" height="13.5" fill="#e6042c"/>
<line x1="513.20" y1="227.4" x2="513.20" y2="321.2" stroke="#161616" stroke-width="0.828"/>
<rect x="511.95" y="233.0" width="2.49" height="62.4" fill="#080808"/>
<rect x="512.78" y="233.8" width="0.83" height="60.7" fill="#e6042c"/>
<line x1="516.51" y1="268.2" x2="516.51" y2="304.2" stroke="#161616" stroke-width="0.828"/>
<rect x="515.27" y="274.6" width="2.49" height="20.8" fill="#080808"/>
<rect x="516.09" y="275.4" width="0.83" height="19.1" fill="#1cc630"/>
<line x1="519.82" y1="273.0" x2="519.82" y2="284.2" stroke="#161616" stroke-width="0.828"/>
<rect x="518.58" y="273.8" width="2.49" height="9.6" fill="#080808"/>
<rect x="519.41" y="274.6" width="0.83" height="7.9" fill="#e6042c"/>
<line x1="523.14" y1="277.0" x2="523.14" y2="284.2" stroke="#161616" stroke-width="0.828"/>
<rect x="521.89" y="277.8" width="2.49" height="4.0" fill="#080808"/>
<rect x="522.72" y="278.6" width="0.83" height="2.3" fill="#e6042c"/>
<line x1="526.45" y1="277.8" x2="526.45" y2="289.8" stroke="#161616" stroke-width="0.828"/>
<rect x="525.21" y="282.3" width="2.49" height="4.3" fill="#080808"/>
<rect x="526.04" y="283.1" width="0.83" height="2.6" fill="#e6042c"/>
<line x1="3" y1="94.0" x2="668" y2="94.0" stroke="#dc143c" stroke-width="1.66"/>
<line x1="3" y1="155.8" x2="668" y2="155.8" stroke="#dc143c" stroke-width="1.66"/>
<line x1="3" y1="346.5" x2="668" y2="346.5" stroke="#dc143c" stroke-width="1.66"/>
<line x1="294.2" y1="143.2" x2="615.6" y2="224.3" stroke="#0a0ad2" stroke-width="1.85"/>
<line x1="284.4" y1="241.7" x2="606.6" y2="322.8" stroke="#0a0ad2" stroke-width="1.85"/>
<text x="667" y="60.3" font-family="'Liberation Sans', sans-serif" font-size="8.3" fill="#7d7d7d" text-anchor="end" textLength="53" lengthAdjust="spacingAndGlyphs" stroke="#7d7d7d" stroke-width="0.12">100.0 = 43.420</text>
<text x="667" y="128.3" font-family="'Liberation Sans', sans-serif" font-size="8.3" fill="#7d7d7d" text-anchor="end" textLength="49" lengthAdjust="spacingAndGlyphs" stroke="#7d7d7d" stroke-width="0.12">78.6 = 41.886</text>
<text x="667" y="182.3" font-family="'Liberation Sans', sans-serif" font-size="8.3" fill="#7d7d7d" text-anchor="end" textLength="49" lengthAdjust="spacingAndGlyphs" stroke="#7d7d7d" stroke-width="0.12">61.8 = 40.681</text>
<text x="667" y="219.3" font-family="'Liberation Sans', sans-serif" font-size="8.3" fill="#7d7d7d" text-anchor="end" textLength="49" lengthAdjust="spacingAndGlyphs" stroke="#7d7d7d" stroke-width="0.12">50.0 = 39.835</text>
<text x="667" y="257.3" font-family="'Liberation Sans', sans-serif" font-size="8.3" fill="#7d7d7d" text-anchor="end" textLength="49" lengthAdjust="spacingAndGlyphs" stroke="#7d7d7d" stroke-width="0.12">38.2 = 38.989</text>
<text x="667" y="303.3" font-family="'Liberation Sans', sans-serif" font-size="8.3" fill="#7d7d7d" text-anchor="end" textLength="49" lengthAdjust="spacingAndGlyphs" stroke="#7d7d7d" stroke-width="0.12">23.6 = 37.942</text>
<text x="667" y="378.3" font-family="'Liberation Sans', sans-serif" font-size="8.3" fill="#7d7d7d" text-anchor="end" textLength="45" lengthAdjust="spacingAndGlyphs" stroke="#7d7d7d" stroke-width="0.12">0.0 = 36.250</text>
<rect x="1.2" y="38" width="0.9" height="358" fill="#989898"/>
<rect x="2" y="38" width="1" height="358" fill="#545454"/>
<rect x="667.1" y="38" width="0.9" height="358" fill="#a0a0a0"/>
<rect x="668" y="38" width="1" height="358" fill="#5c5c5c"/>
<rect x="1.2" y="397" width="0.9" height="90" fill="#989898"/>
<rect x="2" y="397" width="1" height="90" fill="#545454"/>
<rect x="667.1" y="397" width="0.9" height="90" fill="#a0a0a0"/>
<rect x="668" y="397" width="1" height="90" fill="#5c5c5c"/>
<rect x="1.2" y="38.1" width="667.8" height="0.9" fill="#a2a2a2"/>
<rect x="1.2" y="39" width="667.8" height="1" fill="#6c6c6c"/>
<rect x="1.5" y="395" width="667.5" height="1" fill="#3a3a3a"/>
<rect x="1.5" y="396" width="667.5" height="1" fill="#b4b4b4"/>
<rect x="1.5" y="397" width="667.5" height="1" fill="#3a3a3a"/>
<rect x="1.5" y="485.8" width="667.5" height="1.25" fill="#3a3a3a"/>
<polygon points="669,65.3 670.7,66.2 669,67.1" fill="#111"/>
<text x="672.4" y="69.2" font-family="'Liberation Sans', sans-serif" font-size="8.3" fill="#0c0c0c" text-anchor="start" textLength="23.2" lengthAdjust="spacingAndGlyphs" stroke="#0c0c0c" stroke-width="0.22">43.330</text>
<polygon points="669,92.5 670.7,93.4 669,94.3" fill="#111"/>
<polygon points="669,119.7 670.7,120.6 669,121.5" fill="#111"/>
<text x="672.4" y="123.6" font-family="'Liberation Sans', sans-serif" font-size="8.3" fill="#0c0c0c" text-anchor="start" textLength="23.2" lengthAdjust="spacingAndGlyphs" stroke="#0c0c0c" stroke-width="0.22">42.100</text>
<polygon points="669,146.9 670.7,147.8 669,148.7" fill="#111"/>
<text x="672.4" y="150.8" font-family="'Liberation Sans', sans-serif" font-size="8.3" fill="#0c0c0c" text-anchor="start" textLength="23.2" lengthAdjust="spacingAndGlyphs" stroke="#0c0c0c" stroke-width="0.22">41.485</text>
<polygon points="669,174.1 670.7,175.0 669,175.9" fill="#111"/>
<text x="672.4" y="178.0" font-family="'Liberation Sans', sans-serif" font-size="8.3" fill="#0c0c0c" text-anchor="start" textLength="23.2" lengthAdjust="spacingAndGlyphs" stroke="#0c0c0c" stroke-width="0.22">40.870</text>
<polygon points="669,201.3 670.7,202.2 669,203.1" fill="#111"/>
<text x="672.4" y="205.2" font-family="'Liberation Sans', sans-serif" font-size="8.3" fill="#0c0c0c" text-anchor="start" textLength="23.2" lengthAdjust="spacingAndGlyphs" stroke="#0c0c0c" stroke-width="0.22">40.255</text>
<polygon points="669,228.5 670.7,229.4 669,230.3" fill="#111"/>
<text x="672.4" y="232.4" font-family="'Liberation Sans', sans-serif" font-size="8.3" fill="#0c0c0c" text-anchor="start" textLength="23.2" lengthAdjust="spacingAndGlyphs" stroke="#0c0c0c" stroke-width="0.22">39.655</text>
<polygon points="669,255.7 670.7,256.6 669,257.5" fill="#111"/>
<text x="672.4" y="259.6" font-family="'Liberation Sans', sans-serif" font-size="8.3" fill="#0c0c0c" text-anchor="start" textLength="23.2" lengthAdjust="spacingAndGlyphs" stroke="#0c0c0c" stroke-width="0.22">39.040</text>
<polygon points="669,282.9 670.7,283.8 669,284.7" fill="#111"/>
<text x="672.4" y="286.8" font-family="'Liberation Sans', sans-serif" font-size="8.3" fill="#0c0c0c" text-anchor="start" textLength="23.2" lengthAdjust="spacingAndGlyphs" stroke="#0c0c0c" stroke-width="0.22">38.425</text>
<polygon points="669,310.1 670.7,311.0 669,311.9" fill="#111"/>
<text x="672.4" y="314.0" font-family="'Liberation Sans', sans-serif" font-size="8.3" fill="#0c0c0c" text-anchor="start" textLength="23.2" lengthAdjust="spacingAndGlyphs" stroke="#0c0c0c" stroke-width="0.22">37.810</text>
<polygon points="669,337.3 670.7,338.2 669,339.1" fill="#111"/>
<text x="672.4" y="341.2" font-family="'Liberation Sans', sans-serif" font-size="8.3" fill="#0c0c0c" text-anchor="start" textLength="23.2" lengthAdjust="spacingAndGlyphs" stroke="#0c0c0c" stroke-width="0.22">37.195</text>
<polygon points="669,364.5 670.7,365.4 669,366.3" fill="#111"/>
<text x="672.4" y="368.4" font-family="'Liberation Sans', sans-serif" font-size="8.3" fill="#0c0c0c" text-anchor="start" textLength="23.2" lengthAdjust="spacingAndGlyphs" stroke="#0c0c0c" stroke-width="0.22">36.580</text>
<polygon points="669,391.7 670.7,392.6 669,393.5" fill="#111"/>
<text x="672.4" y="395.6" font-family="'Liberation Sans', sans-serif" font-size="8.3" fill="#0c0c0c" text-anchor="start" textLength="23.2" lengthAdjust="spacingAndGlyphs" stroke="#0c0c0c" stroke-width="0.22">35.965</text>
<rect x="669.4" y="89.0" width="29.8" height="8.8" fill="#dc143c"/>
<text x="672.7" y="96.3" font-family="'Liberation Sans', sans-serif" font-size="8.3" fill="#fff" text-anchor="start" textLength="22.6" lengthAdjust="spacingAndGlyphs" stroke="#fff" stroke-width="0.15">42.700</text>
<rect x="669.4" y="151.0" width="29.8" height="8.8" fill="#dc143c"/>
<text x="672.7" y="158.3" font-family="'Liberation Sans', sans-serif" font-size="8.3" fill="#fff" text-anchor="start" textLength="22.6" lengthAdjust="spacingAndGlyphs" stroke="#fff" stroke-width="0.15">41.300</text>
<rect x="669.4" y="341.7" width="29.8" height="8.8" fill="#dc143c"/>
<text x="672.7" y="349.0" font-family="'Liberation Sans', sans-serif" font-size="8.3" fill="#fff" text-anchor="start" textLength="22.6" lengthAdjust="spacingAndGlyphs" stroke="#fff" stroke-width="0.15">37.000</text>
<rect x="669.4" y="282.1" width="29.8" height="8.8" fill="#000"/>
<text x="672.7" y="289.4" font-family="'Liberation Sans', sans-serif" font-size="8.3" fill="#fff" text-anchor="start" textLength="22.6" lengthAdjust="spacingAndGlyphs" stroke="#fff" stroke-width="0.15">38.375</text>
<polygon points="529.3,39.8 536.7,39.8 533,43.6" fill="#b4b4b4"/>
<line x1="529" y1="39.5" x2="537" y2="39.5" stroke="#444" stroke-width="0.8"/>
<polygon points="4.8,44 11.4,44 8.1,47.9" fill="#000"/>
<text x="15.4" y="48.6" font-family="'Liberation Sans', sans-serif" font-size="8.4" fill="#111" text-anchor="start" textLength="45.4" lengthAdjust="spacingAndGlyphs" stroke="#111" stroke-width="0.22">CrudeOIL,H4</text>
<text x="67" y="48.6" font-family="'Liberation Sans', sans-serif" font-size="8.4" fill="#111" text-anchor="start" textLength="99.4" lengthAdjust="spacingAndGlyphs" stroke="#111" stroke-width="0.22">38.460 38.560 38.315 38.375</text>
<line x1="2.90" y1="434.0" x2="2.90" y2="434.3" stroke="#2c8a2c" stroke-width="1.25"/>
<line x1="6.21" y1="434.0" x2="6.21" y2="435.5" stroke="#2c8a2c" stroke-width="1.25"/>
<line x1="9.53" y1="434.0" x2="9.53" y2="435.7" stroke="#2c8a2c" stroke-width="1.25"/>
<line x1="12.84" y1="434.0" x2="12.84" y2="436.0" stroke="#2c8a2c" stroke-width="1.25"/>
<line x1="16.15" y1="434.0" x2="16.15" y2="435.8" stroke="#2c8a2c" stroke-width="1.25"/>
<line x1="19.47" y1="434.0" x2="19.47" y2="435.6" stroke="#2c8a2c" stroke-width="1.25"/>
<line x1="22.78" y1="434.0" x2="22.78" y2="435.6" stroke="#2c8a2c" stroke-width="1.25"/>
<line x1="26.09" y1="434.0" x2="26.09" y2="435.6" stroke="#2c8a2c" stroke-width="1.25"/>
<line x1="29.41" y1="434.0" x2="29.41" y2="435.4" stroke="#2c8a2c" stroke-width="1.25"/>
<line x1="32.72" y1="434.0" x2="32.72" y2="434.5" stroke="#2c8a2c" stroke-width="1.25"/>
<line x1="36.04" y1="434.0" x2="36.04" y2="434.3" stroke="#2c8a2c" stroke-width="1.25"/>
<line x1="39.35" y1="434.0" x2="39.35" y2="434.5" stroke="#2c8a2c" stroke-width="1.25"/>
<line x1="42.66" y1="434.0" x2="42.66" y2="434.3" stroke="#2c8a2c" stroke-width="1.25"/>
<line x1="45.98" y1="434.0" x2="45.98" y2="434.8" stroke="#2c8a2c" stroke-width="1.25"/>
<line x1="49.29" y1="434.0" x2="49.29" y2="434.8" stroke="#2c8a2c" stroke-width="1.25"/>
<line x1="52.60" y1="434.0" x2="52.60" y2="434.8" stroke="#2c8a2c" stroke-width="1.25"/>
<line x1="55.92" y1="434.0" x2="55.92" y2="434.8" stroke="#2c8a2c" stroke-width="1.25"/>
<line x1="59.23" y1="434.0" x2="59.23" y2="434.3" stroke="#2c8a2c" stroke-width="1.25"/>
<line x1="62.54" y1="434.0" x2="62.54" y2="434.3" stroke="#2c8a2c" stroke-width="1.25"/>
<line x1="65.86" y1="434.0" x2="65.86" y2="434.5" stroke="#2c8a2c" stroke-width="1.25"/>
<line x1="69.17" y1="434.0" x2="69.17" y2="434.5" stroke="#2c8a2c" stroke-width="1.25"/>
<line x1="72.49" y1="434.0" x2="72.49" y2="434.3" stroke="#2c8a2c" stroke-width="1.25"/>
<line x1="75.80" y1="434.0" x2="75.80" y2="434.3" stroke="#2c8a2c" stroke-width="1.25"/>
<line x1="79.11" y1="434.0" x2="79.11" y2="434.3" stroke="#2c8a2c" stroke-width="1.25"/>
<line x1="82.43" y1="434.0" x2="82.43" y2="437.0" stroke="#2c8a2c" stroke-width="1.25"/>
<line x1="85.74" y1="434.0" x2="85.74" y2="439.5" stroke="#2c8a2c" stroke-width="1.25"/>
<line x1="89.05" y1="434.0" x2="89.05" y2="439.5" stroke="#2c8a2c" stroke-width="1.25"/>
<line x1="92.37" y1="434.0" x2="92.37" y2="440.5" stroke="#2c8a2c" stroke-width="1.25"/>
<line x1="95.68" y1="434.0" x2="95.68" y2="441.1" stroke="#2c8a2c" stroke-width="1.25"/>
<line x1="98.99" y1="434.0" x2="98.99" y2="441.8" stroke="#2c8a2c" stroke-width="1.25"/>
<line x1="102.31" y1="434.0" x2="102.31" y2="441.1" stroke="#2c8a2c" stroke-width="1.25"/>
<line x1="105.62" y1="434.0" x2="105.62" y2="440.2" stroke="#2c8a2c" stroke-width="1.25"/>
<line x1="108.93" y1="434.0" x2="108.93" y2="439.3" stroke="#2c8a2c" stroke-width="1.25"/>
<line x1="112.25" y1="434.0" x2="112.25" y2="438.4" stroke="#2c8a2c" stroke-width="1.25"/>
<line x1="115.56" y1="434.0" x2="115.56" y2="436.9" stroke="#2c8a2c" stroke-width="1.25"/>
<line x1="118.88" y1="434.0" x2="118.88" y2="434.6" stroke="#2c8a2c" stroke-width="1.25"/>
<line x1="122.19" y1="434.0" x2="122.19" y2="436.9" stroke="#2c8a2c" stroke-width="1.25"/>
<line x1="125.50" y1="434.0" x2="125.50" y2="439.6" stroke="#2c8a2c" stroke-width="1.25"/>
<line x1="128.82" y1="434.0" x2="128.82" y2="440.6" stroke="#2c8a2c" stroke-width="1.25"/>
<line x1="132.13" y1="434.0" x2="132.13" y2="441.8" stroke="#2c8a2c" stroke-width="1.25"/>
<line x1="135.44" y1="434.0" x2="135.44" y2="441.1" stroke="#2c8a2c" stroke-width="1.25"/>
<line x1="138.76" y1="434.0" x2="138.76" y2="440.3" stroke="#2c8a2c" stroke-width="1.25"/>
<line x1="142.07" y1="434.0" x2="142.07" y2="439.6" stroke="#2c8a2c" stroke-width="1.25"/>
<line x1="145.38" y1="434.0" x2="145.38" y2="437.9" stroke="#2c8a2c" stroke-width="1.25"/>
<line x1="148.70" y1="434.0" x2="148.70" y2="436.9" stroke="#2c8a2c" stroke-width="1.25"/>
<line x1="152.01" y1="434.0" x2="152.01" y2="435.5" stroke="#2c8a2c" stroke-width="1.25"/>
<line x1="155.33" y1="434.0" x2="155.33" y2="434.5" stroke="#2c8a2c" stroke-width="1.25"/>
<line x1="158.64" y1="434.0" x2="158.64" y2="434.5" stroke="#2c8a2c" stroke-width="1.25"/>
<line x1="161.95" y1="434.0" x2="161.95" y2="437.6" stroke="#2c8a2c" stroke-width="1.25"/>
<line x1="165.27" y1="434.0" x2="165.27" y2="440.7" stroke="#2c8a2c" stroke-width="1.25"/>
<line x1="168.58" y1="434.0" x2="168.58" y2="441.5" stroke="#2c8a2c" stroke-width="1.25"/>
<line x1="171.89" y1="434.0" x2="171.89" y2="441.8" stroke="#2c8a2c" stroke-width="1.25"/>
<line x1="175.21" y1="434.0" x2="175.21" y2="441.8" stroke="#2c8a2c" stroke-width="1.25"/>
<line x1="178.52" y1="434.0" x2="178.52" y2="437.6" stroke="#2c8a2c" stroke-width="1.25"/>
<line x1="181.83" y1="434.0" x2="181.83" y2="435.5" stroke="#2c8a2c" stroke-width="1.25"/>
<line x1="185.15" y1="433.4" x2="185.15" y2="434.0" stroke="#2c8a2c" stroke-width="1.25"/>
<line x1="188.46" y1="430.6" x2="188.46" y2="434.0" stroke="#2c8a2c" stroke-width="1.25"/>
<line x1="191.78" y1="430.1" x2="191.78" y2="434.0" stroke="#2c8a2c" stroke-width="1.25"/>
<line x1="195.09" y1="428.1" x2="195.09" y2="434.0" stroke="#2c8a2c" stroke-width="1.25"/>
<line x1="198.40" y1="428.1" x2="198.40" y2="434.0" stroke="#2c8a2c" stroke-width="1.25"/>
<line x1="201.72" y1="428.1" x2="201.72" y2="434.0" stroke="#2c8a2c" stroke-width="1.25"/>
<line x1="205.03" y1="428.1" x2="205.03" y2="434.0" stroke="#2c8a2c" stroke-width="1.25"/>
<line x1="208.34" y1="429.9" x2="208.34" y2="434.0" stroke="#2c8a2c" stroke-width="1.25"/>
<line x1="211.66" y1="430.2" x2="211.66" y2="434.0" stroke="#2c8a2c" stroke-width="1.25"/>
<line x1="214.97" y1="430.5" x2="214.97" y2="434.0" stroke="#2c8a2c" stroke-width="1.25"/>
<line x1="218.28" y1="430.5" x2="218.28" y2="434.0" stroke="#2c8a2c" stroke-width="1.25"/>
<line x1="221.60" y1="430.5" x2="221.60" y2="434.0" stroke="#2c8a2c" stroke-width="1.25"/>
<line x1="224.91" y1="429.9" x2="224.91" y2="434.0" stroke="#2c8a2c" stroke-width="1.25"/>
<line x1="228.22" y1="429.1" x2="228.22" y2="434.0" stroke="#2c8a2c" stroke-width="1.25"/>
<line x1="231.54" y1="429.9" x2="231.54" y2="434.0" stroke="#2c8a2c" stroke-width="1.25"/>
<line x1="234.85" y1="429.1" x2="234.85" y2="434.0" stroke="#2c8a2c" stroke-width="1.25"/>
<line x1="238.17" y1="428.1" x2="238.17" y2="434.0" stroke="#2c8a2c" stroke-width="1.25"/>
<line x1="241.48" y1="428.1" x2="241.48" y2="434.0" stroke="#2c8a2c" stroke-width="1.25"/>
<line x1="244.79" y1="429.1" x2="244.79" y2="434.0" stroke="#2c8a2c" stroke-width="1.25"/>
<line x1="248.11" y1="429.9" x2="248.11" y2="434.0" stroke="#2c8a2c" stroke-width="1.25"/>
<line x1="251.42" y1="429.9" x2="251.42" y2="434.0" stroke="#2c8a2c" stroke-width="1.25"/>
<line x1="254.73" y1="430.2" x2="254.73" y2="434.0" stroke="#2c8a2c" stroke-width="1.25"/>
<line x1="258.05" y1="430.9" x2="258.05" y2="434.0" stroke="#2c8a2c" stroke-width="1.25"/>
<line x1="261.36" y1="431.3" x2="261.36" y2="434.0" stroke="#2c8a2c" stroke-width="1.25"/>
<line x1="264.67" y1="430.5" x2="264.67" y2="434.0" stroke="#2c8a2c" stroke-width="1.25"/>
<line x1="267.99" y1="430.2" x2="267.99" y2="434.0" stroke="#2c8a2c" stroke-width="1.25"/>
<line x1="271.30" y1="428.1" x2="271.30" y2="434.0" stroke="#2c8a2c" stroke-width="1.25"/>
<line x1="274.62" y1="427.1" x2="274.62" y2="434.0" stroke="#2c8a2c" stroke-width="1.25"/>
<line x1="277.93" y1="426.0" x2="277.93" y2="434.0" stroke="#2c8a2c" stroke-width="1.25"/>
<line x1="281.24" y1="425.3" x2="281.24" y2="434.0" stroke="#2c8a2c" stroke-width="1.25"/>
<line x1="284.56" y1="424.6" x2="284.56" y2="434.0" stroke="#2c8a2c" stroke-width="1.25"/>
<line x1="287.87" y1="424.0" x2="287.87" y2="434.0" stroke="#2c8a2c" stroke-width="1.25"/>
<line x1="291.18" y1="423.2" x2="291.18" y2="434.0" stroke="#2c8a2c" stroke-width="1.25"/>
<line x1="294.50" y1="423.2" x2="294.50" y2="434.0" stroke="#2c8a2c" stroke-width="1.25"/>
<line x1="297.81" y1="424.9" x2="297.81" y2="434.0" stroke="#2c8a2c" stroke-width="1.25"/>
<line x1="301.12" y1="426.7" x2="301.12" y2="434.0" stroke="#2c8a2c" stroke-width="1.25"/>
<line x1="304.44" y1="427.4" x2="304.44" y2="434.0" stroke="#2c8a2c" stroke-width="1.25"/>
<line x1="307.75" y1="426.7" x2="307.75" y2="434.0" stroke="#2c8a2c" stroke-width="1.25"/>
<line x1="311.07" y1="426.7" x2="311.07" y2="434.0" stroke="#2c8a2c" stroke-width="1.25"/>
<line x1="314.38" y1="427.4" x2="314.38" y2="434.0" stroke="#2c8a2c" stroke-width="1.25"/>
<line x1="317.69" y1="427.4" x2="317.69" y2="434.0" stroke="#2c8a2c" stroke-width="1.25"/>
<line x1="321.01" y1="429.1" x2="321.01" y2="434.0" stroke="#2c8a2c" stroke-width="1.25"/>
<line x1="324.32" y1="430.9" x2="324.32" y2="434.0" stroke="#2c8a2c" stroke-width="1.25"/>
<line x1="327.63" y1="431.6" x2="327.63" y2="434.0" stroke="#2c8a2c" stroke-width="1.25"/>
<line x1="330.95" y1="433.3" x2="330.95" y2="434.0" stroke="#2c8a2c" stroke-width="1.25"/>
<line x1="334.26" y1="434.0" x2="334.26" y2="434.3" stroke="#2c8a2c" stroke-width="1.25"/>
<line x1="337.57" y1="434.0" x2="337.57" y2="434.3" stroke="#2c8a2c" stroke-width="1.25"/>
<line x1="340.89" y1="434.0" x2="340.89" y2="434.3" stroke="#2c8a2c" stroke-width="1.25"/>
<line x1="344.20" y1="434.0" x2="344.20" y2="436.5" stroke="#2c8a2c" stroke-width="1.25"/>
<line x1="347.51" y1="434.0" x2="347.51" y2="438.6" stroke="#2c8a2c" stroke-width="1.25"/>
<line x1="350.83" y1="434.0" x2="350.83" y2="441.7" stroke="#2c8a2c" stroke-width="1.25"/>
<line x1="354.14" y1="434.0" x2="354.14" y2="442.5" stroke="#2c8a2c" stroke-width="1.25"/>
<line x1="357.46" y1="434.0" x2="357.46" y2="442.8" stroke="#2c8a2c" stroke-width="1.25"/>
<line x1="360.77" y1="434.0" x2="360.77" y2="443.5" stroke="#2c8a2c" stroke-width="1.25"/>
<line x1="364.08" y1="434.0" x2="364.08" y2="443.5" stroke="#2c8a2c" stroke-width="1.25"/>
<line x1="367.40" y1="434.0" x2="367.40" y2="442.8" stroke="#2c8a2c" stroke-width="1.25"/>
<line x1="370.71" y1="434.0" x2="370.71" y2="441.7" stroke="#2c8a2c" stroke-width="1.25"/>
<line x1="374.02" y1="434.0" x2="374.02" y2="440.7" stroke="#2c8a2c" stroke-width="1.25"/>
<line x1="377.34" y1="434.0" x2="377.34" y2="440.0" stroke="#2c8a2c" stroke-width="1.25"/>
<line x1="380.65" y1="434.0" x2="380.65" y2="440.0" stroke="#2c8a2c" stroke-width="1.25"/>
<line x1="383.96" y1="434.0" x2="383.96" y2="439.3" stroke="#2c8a2c" stroke-width="1.25"/>
<line x1="387.28" y1="434.0" x2="387.28" y2="437.2" stroke="#2c8a2c" stroke-width="1.25"/>
<line x1="390.59" y1="434.0" x2="390.59" y2="437.0" stroke="#2c8a2c" stroke-width="1.25"/>
<line x1="393.91" y1="434.0" x2="393.91" y2="436.5" stroke="#2c8a2c" stroke-width="1.25"/>
<line x1="397.22" y1="434.0" x2="397.22" y2="436.1" stroke="#2c8a2c" stroke-width="1.25"/>
<line x1="400.53" y1="434.0" x2="400.53" y2="435.8" stroke="#2c8a2c" stroke-width="1.25"/>
<line x1="403.85" y1="434.0" x2="403.85" y2="435.1" stroke="#2c8a2c" stroke-width="1.25"/>
<line x1="407.16" y1="434.0" x2="407.16" y2="434.5" stroke="#2c8a2c" stroke-width="1.25"/>
<line x1="410.47" y1="434.0" x2="410.47" y2="434.3" stroke="#2c8a2c" stroke-width="1.25"/>
<line x1="413.79" y1="433.4" x2="413.79" y2="434.0" stroke="#2c8a2c" stroke-width="1.25"/>
<line x1="417.10" y1="432.3" x2="417.10" y2="434.0" stroke="#2c8a2c" stroke-width="1.25"/>
<line x1="420.41" y1="431.6" x2="420.41" y2="434.0" stroke="#2c8a2c" stroke-width="1.25"/>
<line x1="423.73" y1="432.3" x2="423.73" y2="434.0" stroke="#2c8a2c" stroke-width="1.25"/>
<line x1="427.04" y1="433.0" x2="427.04" y2="434.0" stroke="#2c8a2c" stroke-width="1.25"/>
<line x1="430.36" y1="433.6" x2="430.36" y2="434.0" stroke="#2c8a2c" stroke-width="1.25"/>
<line x1="433.67" y1="434.0" x2="433.67" y2="434.4" stroke="#2c8a2c" stroke-width="1.25"/>
<line x1="436.98" y1="434.0" x2="436.98" y2="434.4" stroke="#2c8a2c" stroke-width="1.25"/>
<line x1="440.30" y1="433.6" x2="440.30" y2="434.0" stroke="#2c8a2c" stroke-width="1.25"/>
<line x1="443.61" y1="434.0" x2="443.61" y2="434.3" stroke="#2c8a2c" stroke-width="1.25"/>
<line x1="446.92" y1="434.0" x2="446.92" y2="434.3" stroke="#2c8a2c" stroke-width="1.25"/>
<line x1="450.24" y1="433.5" x2="450.24" y2="434.0" stroke="#2c8a2c" stroke-width="1.25"/>
<line x1="453.55" y1="433.4" x2="453.55" y2="434.0" stroke="#2c8a2c" stroke-width="1.25"/>
<line x1="456.86" y1="433.4" x2="456.86" y2="434.0" stroke="#2c8a2c" stroke-width="1.25"/>
<line x1="460.18" y1="433.4" x2="460.18" y2="434.0" stroke="#2c8a2c" stroke-width="1.25"/>
<line x1="463.49" y1="433.5" x2="463.49" y2="434.0" stroke="#2c8a2c" stroke-width="1.25"/>
<line x1="466.80" y1="433.5" x2="466.80" y2="434.0" stroke="#2c8a2c" stroke-width="1.25"/>
<line x1="470.12" y1="433.6" x2="470.12" y2="434.0" stroke="#2c8a2c" stroke-width="1.25"/>
<line x1="473.43" y1="434.0" x2="473.43" y2="437.4" stroke="#2c8a2c" stroke-width="1.25"/>
<line x1="476.75" y1="434.0" x2="476.75" y2="438.6" stroke="#2c8a2c" stroke-width="1.25"/>
<line x1="480.06" y1="434.0" x2="480.06" y2="439.7" stroke="#2c8a2c" stroke-width="1.25"/>
<line x1="483.37" y1="434.0" x2="483.37" y2="439.7" stroke="#2c8a2c" stroke-width="1.25"/>
<line x1="486.69" y1="434.0" x2="486.69" y2="439.7" stroke="#2c8a2c" stroke-width="1.25"/>
<line x1="490.00" y1="434.0" x2="490.00" y2="438.6" stroke="#2c8a2c" stroke-width="1.25"/>
<line x1="493.31" y1="434.0" x2="493.31" y2="436.1" stroke="#2c8a2c" stroke-width="1.25"/>
<line x1="496.63" y1="434.0" x2="496.63" y2="434.5" stroke="#2c8a2c" stroke-width="1.25"/>
<line x1="499.94" y1="434.0" x2="499.94" y2="434.3" stroke="#2c8a2c" stroke-width="1.25"/>
<line x1="503.25" y1="432.3" x2="503.25" y2="434.0" stroke="#2c8a2c" stroke-width="1.25"/>
<line x1="506.57" y1="431.9" x2="506.57" y2="434.0" stroke="#2c8a2c" stroke-width="1.25"/>
<line x1="509.88" y1="433.0" x2="509.88" y2="434.0" stroke="#2c8a2c" stroke-width="1.25"/>
<line x1="513.20" y1="434.0" x2="513.20" y2="436.5" stroke="#2c8a2c" stroke-width="1.25"/>
<line x1="516.51" y1="434.0" x2="516.51" y2="437.9" stroke="#2c8a2c" stroke-width="1.25"/>
<line x1="519.82" y1="434.0" x2="519.82" y2="438.6" stroke="#2c8a2c" stroke-width="1.25"/>
<line x1="523.14" y1="434.0" x2="523.14" y2="438.9" stroke="#2c8a2c" stroke-width="1.25"/>
<line x1="526.45" y1="434.0" x2="526.45" y2="438.9" stroke="#2c8a2c" stroke-width="1.25"/>
<path d="M2.80,427.60 L4.72,427.91 M7.20,428.31 L9.69,428.71 M12.17,429.11 L14.00,429.40 L14.66,429.49 M17.14,429.82 L19.63,430.15 M22.11,430.48 L23.80,430.70 L24.60,430.80 M27.08,431.13 L29.57,431.46 M32.05,431.78 L32.20,431.80 L34.54,431.70 M37.02,431.59 L39.20,431.50 L39.51,431.54 M41.99,431.83 L44.48,432.13 M46.96,432.42 L47.60,432.50 L49.45,432.59 M51.93,432.71 L54.42,432.82 M56.91,432.92 L59.39,432.98 M61.88,433.03 L64.36,433.08 M66.85,433.14 L69.33,433.19 M71.82,433.25 L74.30,433.30 M76.79,433.36 L78.60,433.40 L79.27,433.64 M81.76,434.51 L84.00,435.30 L84.24,435.40 M86.73,436.46 L88.00,437.00 L89.21,437.68 M91.70,439.07 L93.00,439.80 L94.18,440.56 M96.67,442.15 L98.00,443.00 L99.15,443.66 M101.64,445.09 L102.00,445.30 L104.12,446.27 M106.61,447.41 L109.00,448.50 L109.09,448.52 M111.58,449.12 L114.07,449.72 M116.55,450.33 L118.10,450.70 L119.04,451.06 M121.52,452.03 L124.01,453.00 M126.49,454.05 L128.98,455.29 M131.46,456.53 L132.00,456.80 L133.95,457.77 M136.43,459.02 L137.00,459.30 L138.92,460.04 M141.40,461.01 L143.89,461.97 M146.37,462.93 L146.80,463.10 L148.86,463.63 M151.34,464.27 L153.80,464.90 L153.83,464.90 M156.31,465.08 L158.80,465.26 M161.28,466.34 L163.77,467.72 M166.25,469.15 L168.74,470.64 M171.22,472.13 L172.00,472.60 L173.71,473.21 M176.20,474.10 L178.68,474.99 M181.17,474.95 L183.65,474.77 M186.14,474.19 L188.62,473.36 M191.11,472.35 L193.59,471.10 M196.08,469.86 L197.00,469.40 L198.56,468.73 M201.05,467.67 L203.53,466.60 M206.02,465.54 L206.80,465.20 L208.50,464.56 M210.99,463.63 L213.47,462.70 M215.96,461.77 L218.00,461.00 L218.44,460.83 M220.93,459.90 L223.41,458.97 M225.90,458.04 L228.38,457.11 M230.87,456.07 L233.36,454.98 M235.84,453.89 L238.33,452.81 M240.81,451.75 L243.30,450.81 M245.78,449.88 L248.27,448.95 M250.75,448.02 L251.60,447.70 L253.24,447.19 M255.72,446.41 L258.21,445.64 M260.69,444.86 L262.80,444.20 L263.18,444.04 M265.66,443.01 L268.15,441.97 M270.63,440.94 L271.20,440.70 L273.12,439.42 M275.60,437.76 L278.09,436.11 M280.57,434.47 L283.06,432.86 M285.54,431.11 L288.03,428.87 M290.51,426.64 L292.00,425.30 L293.00,424.60 M295.49,422.86 L297.97,421.12 M300.46,419.46 L302.94,417.87 M305.43,416.27 L306.00,415.90 L307.91,414.64 M310.40,413.01 L312.88,411.38 M315.37,410.22 L317.85,409.08 M320.34,408.00 L322.82,407.29 M325.31,406.58 L327.00,406.10 L327.79,406.10 M330.28,406.10 L332.76,406.10 M335.25,406.21 L337.73,406.42 M340.22,406.63 L341.00,406.70 L342.70,407.38 M345.19,408.38 L347.67,409.37 M350.16,410.70 L352.64,412.09 M355.13,413.50 L357.62,415.38 M360.10,417.26 L362.00,418.70 L362.59,419.14 M365.07,420.98 L367.56,422.83 M370.04,424.47 L372.53,425.81 M375.01,427.16 L376.00,427.70 L377.50,428.41 M379.98,429.58 L382.47,430.75 M384.95,431.63 L387.00,432.30 L387.44,432.43 M389.92,433.18 L392.41,433.92 M394.89,434.58 L397.38,435.08 M399.86,435.57 L401.00,435.80 L402.35,436.01 M404.83,436.40 L407.32,436.79 M409.80,436.62 L412.29,436.23 M414.78,435.84 L415.00,435.80 L417.26,435.35 M419.75,434.85 L422.00,434.40 L422.23,434.35 M424.72,433.86 L427.20,433.36 M429.69,432.95 L432.17,432.77 M434.66,432.60 L437.14,432.42 M439.63,432.27 L442.11,432.18 M444.60,432.09 L447.08,432.00 M449.57,431.92 L450.00,431.90 L452.05,431.75 M454.54,431.58 L457.02,431.40 M459.51,431.15 L461.99,430.83 M464.48,430.50 L466.80,430.20 L466.96,430.18 M469.45,429.95 L470.00,429.90 L471.93,430.51 M474.42,431.29 L475.40,431.60 L476.91,432.43 M479.39,433.81 L481.00,434.70 L481.88,435.10 M484.36,436.24 L486.85,437.37 M489.33,438.11 L491.82,438.50 M494.30,438.89 L495.00,439.00 L496.79,438.90 M499.27,438.76 L501.76,438.61 M504.24,438.25 L506.73,437.86 M509.21,437.54 L511.70,438.04 M514.18,438.54 L516.00,438.90 L516.67,439.14 M519.15,440.03 L520.20,440.40 L521.64,441.02 M524.12,442.08 L525.10,442.50" fill="none" stroke="#ff2222" stroke-width="0.95"/>
<polyline points="2.8,428.3 6.3,430.1 12.6,431.8 18.2,432.5 25.2,433.2 30.1,432.9 35.0,431.5 40.6,430.7 46.2,432.1 49.0,433.2 58.8,433.3 78.6,433.4 81.2,436.7 85.4,440.9 89.0,443.0 94.0,446.5 98.5,450.9 102.0,453.3 107.6,453.7 111.8,455.0 118.1,451.3 124.4,457.9 128.6,461.1 132.1,465.3 137.0,466.7 142.6,468.1 146.8,467.7 151.0,466.3 158.0,465.6 160.8,469.1 165.0,475.1 170.6,478.9 175.2,482.1 181.8,476.8 187.4,471.2 191.5,467.4 195.6,463.8 204.0,459.6 211.0,458.9 218.0,457.9 226.4,453.3 234.8,449.5 240.4,445.9 248.8,443.5 255.8,441.7 262.1,441.4 267.0,438.6 274.0,433.0 279.6,426.0 285.2,421.6 289.2,416.9 294.1,411.7 298.3,411.7 303.9,410.3 308.1,406.4 313.0,403.9 320.0,401.9 325.6,403.9 331.2,404.6 336.8,406.4 342.4,409.2 348.0,414.1 350.8,419.0 355.0,422.5 360.6,426.7 366.2,430.5 371.8,433.0 377.4,434.7 383.0,436.9 386.0,437.9 394.0,437.9 398.2,439.3 403.1,439.3 408.0,437.2 415.0,433.7 420.6,431.3 424.8,430.9 440.2,431.6 447.2,432.7 452.8,430.9 459.8,429.5 469.8,429.5 473.2,435.1 478.1,439.0 483.8,442.1 488.0,443.5 492.2,442.5 497.8,439.3 503.4,436.5 509.0,435.8 512.5,440.0 517.4,443.5 521.6,445.9 525.8,447.3" fill="none" stroke="#2626ff" stroke-width="1.1" stroke-linejoin="round"/>
<text x="6.1" y="407.2" font-family="'Liberation Sans', sans-serif" font-size="8.4" fill="#111" text-anchor="start" textLength="53.4" lengthAdjust="spacingAndGlyphs" stroke="#111" stroke-width="0.22">MACD(12,26,9)</text>
<text x="62.9" y="407.2" font-family="'Liberation Sans', sans-serif" font-size="8.4" fill="#111" text-anchor="start" textLength="82.3" lengthAdjust="spacingAndGlyphs" stroke="#111" stroke-width="0.22">-0.3573 -0.2280 -0.1293</text>
<text x="671.2" y="405.6" font-family="'Liberation Sans', sans-serif" font-size="8.4" fill="#111" text-anchor="start" textLength="23" lengthAdjust="spacingAndGlyphs" stroke="#111" stroke-width="0.22">0.9563</text>
<text x="671.2" y="437.0" font-family="'Liberation Sans', sans-serif" font-size="8.4" fill="#111" text-anchor="start" textLength="15.2" lengthAdjust="spacingAndGlyphs" stroke="#111" stroke-width="0.22">0.00</text>
<text x="671" y="483.6" font-family="'Liberation Sans', sans-serif" font-size="8.4" fill="#111" text-anchor="start" textLength="25.6" lengthAdjust="spacingAndGlyphs" stroke="#111" stroke-width="0.22">-1.3815</text>
<line x1="669" y1="434" x2="670.6" y2="434" stroke="#222" stroke-width="0.9"/>
<line x1="2.9" y1="486.5" x2="2.9" y2="489" stroke="#222" stroke-width="1"/>
<text x="1.7" y="497" font-family="'Liberation Sans', sans-serif" font-size="8.4" fill="#111" text-anchor="start" textLength="43.5" lengthAdjust="spacingAndGlyphs" stroke="#111" stroke-width="0.22">27 Aug 2020</text>
<line x1="55.9" y1="486.5" x2="55.9" y2="489" stroke="#222" stroke-width="1"/>
<text x="54.7" y="497" font-family="'Liberation Sans', sans-serif" font-size="8.4" fill="#111" text-anchor="start" textLength="41.5" lengthAdjust="spacingAndGlyphs" stroke="#111" stroke-width="0.22">1 Sep 04:00</text>
<line x1="108.9" y1="486.5" x2="108.9" y2="489" stroke="#222" stroke-width="1"/>
<text x="107.7" y="497" font-family="'Liberation Sans', sans-serif" font-size="8.4" fill="#111" text-anchor="start" textLength="41.5" lengthAdjust="spacingAndGlyphs" stroke="#111" stroke-width="0.22">3 Sep 20:00</text>
<line x1="162.0" y1="486.5" x2="162.0" y2="489" stroke="#222" stroke-width="1"/>
<text x="160.8" y="497" font-family="'Liberation Sans', sans-serif" font-size="8.4" fill="#111" text-anchor="start" textLength="41.5" lengthAdjust="spacingAndGlyphs" stroke="#111" stroke-width="0.22">8 Sep 08:00</text>
<line x1="215.0" y1="486.5" x2="215.0" y2="489" stroke="#222" stroke-width="1"/>
<text x="213.8" y="497" font-family="'Liberation Sans', sans-serif" font-size="8.4" fill="#111" text-anchor="start" textLength="46" lengthAdjust="spacingAndGlyphs" stroke="#111" stroke-width="0.22">11 Sep 00:00</text>
<line x1="268.0" y1="486.5" x2="268.0" y2="489" stroke="#222" stroke-width="1"/>
<text x="266.8" y="497" font-family="'Liberation Sans', sans-serif" font-size="8.4" fill="#111" text-anchor="start" textLength="46" lengthAdjust="spacingAndGlyphs" stroke="#111" stroke-width="0.22">15 Sep 12:00</text>
<line x1="321.0" y1="486.5" x2="321.0" y2="489" stroke="#222" stroke-width="1"/>
<text x="319.8" y="497" font-family="'Liberation Sans', sans-serif" font-size="8.4" fill="#111" text-anchor="start" textLength="46" lengthAdjust="spacingAndGlyphs" stroke="#111" stroke-width="0.22">18 Sep 04:00</text>
<line x1="374.0" y1="486.5" x2="374.0" y2="489" stroke="#222" stroke-width="1"/>
<text x="372.8" y="497" font-family="'Liberation Sans', sans-serif" font-size="8.4" fill="#111" text-anchor="start" textLength="46" lengthAdjust="spacingAndGlyphs" stroke="#111" stroke-width="0.22">22 Sep 16:00</text>
<line x1="427.0" y1="486.5" x2="427.0" y2="489" stroke="#222" stroke-width="1"/>
<text x="425.8" y="497" font-family="'Liberation Sans', sans-serif" font-size="8.4" fill="#111" text-anchor="start" textLength="46" lengthAdjust="spacingAndGlyphs" stroke="#111" stroke-width="0.22">25 Sep 08:00</text>
<line x1="480.1" y1="486.5" x2="480.1" y2="489" stroke="#222" stroke-width="1"/>
<text x="478.9" y="497" font-family="'Liberation Sans', sans-serif" font-size="8.4" fill="#111" text-anchor="start" textLength="46" lengthAdjust="spacingAndGlyphs" stroke="#111" stroke-width="0.22">29 Sep 20:00</text>
</svg>
</body></html>
